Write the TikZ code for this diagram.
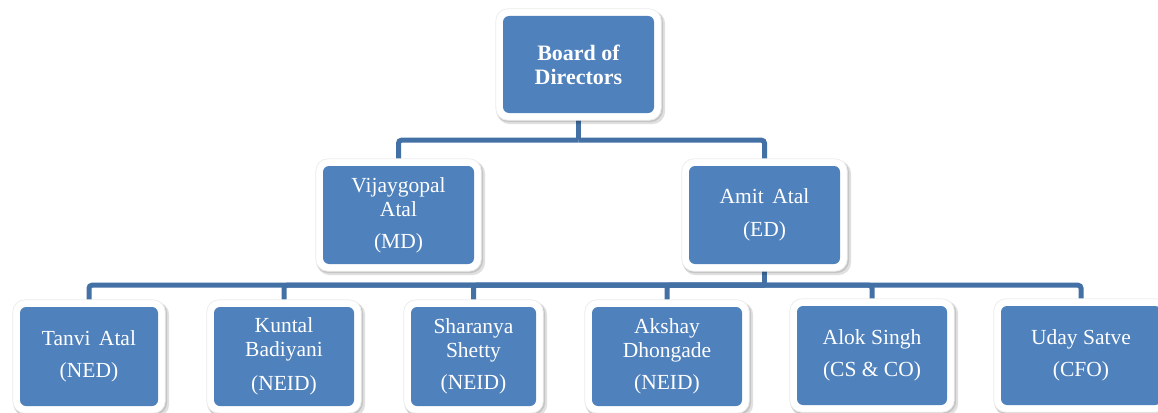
\documentclass[tikz,border=0pt]{standalone}
\usepackage{fontspec}
\setmainfont{Liberation Serif}
\usetikzlibrary{calc,backgrounds}
\definecolor{boxblue}{RGB}{79,129,189}
\definecolor{lineblue}{RGB}{67,112,165}
\begin{document}
\begin{tikzpicture}[x=1pt,y=-1pt,
  box/.style={rectangle, rounded corners=6pt, fill=boxblue, text=white, align=center,
    inner sep=0pt, font=\fontsize{21.5}{24}\selectfont},
  conn/.style={draw=lineblue, line width=5pt, rounded corners=3pt},
  frame/.style={fill=white, draw=black!7, line width=0.8pt, rounded corners=12pt},
  shade/.style={fill=black, opacity=0.12, rounded corners=13pt}]
\useasboundingbox (0,0) rectangle (1158,412);
\clip (0,0) rectangle (1158,412);
% nodes
\node[box, font=\fontsize{22}{24}\selectfont\bfseries, minimum width=151pt, minimum height=97pt] (top) at (578.5,64.5) {Board of\\Directors};
\node[box, minimum width=151pt, minimum height=98pt] (vija) at (398.5,215) {Vijaygopal\\Atal\\[8pt](MD)};
\node[box, minimum width=151pt, minimum height=98pt] (amit) at (764.5,215) {Amit\hspace{3pt} Atal\\[9pt](ED)};
\node[box, minimum width=138pt, minimum height=99pt] (tanvi) at (89,356.5) {Tanvi\hspace{3pt} Atal\\[8pt](NED)};
\node[box, minimum width=140pt, minimum height=99pt] (kuntal) at (284,356.5) {Kuntal\\Badiyani\\[10pt](NEID)};
\node[box, minimum width=125pt, minimum height=99pt] (sharanya) at (473.5,356.5) {Sharanya\\Shetty\\[8pt](NEID)};
\node[box, minimum width=150pt, minimum height=99pt] (akshay) at (667,356.5) {Akshay\\Dhongade\\[8pt](NEID)};
\node[box, minimum width=150pt, minimum height=99pt] (alok) at (872,355.5) {Alok Singh\\[8pt](CS \& CO)};
\node[box, minimum width=160pt, minimum height=99pt] (uday) at (1081,355.5) {Uday Satve\\[8pt](CFO)};
\begin{scope}[on background layer]
  % connectors
  \coordinate (j1) at ($(top.south)+(0,27)$);
  \draw[conn] (top.south) -- (j1);
  \draw[conn] (j1) -| (vija.north);
  \draw[conn] (j1) -| (amit.north);
  \coordinate (j2) at ($(amit.south)+(0,21)$);
  \draw[conn] (amit.south) -- (j2);
  \foreach \n in {tanvi,kuntal,sharanya,akshay,alok,uday}
    \draw[conn] (j2) -| (\n.north);
  % shadows and white frames
  \foreach \n in {top,vija,amit,tanvi,kuntal,sharanya,akshay,alok,uday}{
    \fill[shade] ($(\n.south west)+(-6,11)$) rectangle ($(\n.north east)+(11,-5)$);
    \fill[shade] ($(\n.south west)+(-7,9)$) rectangle ($(\n.north east)+(9,-6)$);
    \filldraw[frame] ($(\n.south west)+(-7,7)$) rectangle ($(\n.north east)+(7,-7)$);
  }
\end{scope}
\end{tikzpicture}
\end{document}
